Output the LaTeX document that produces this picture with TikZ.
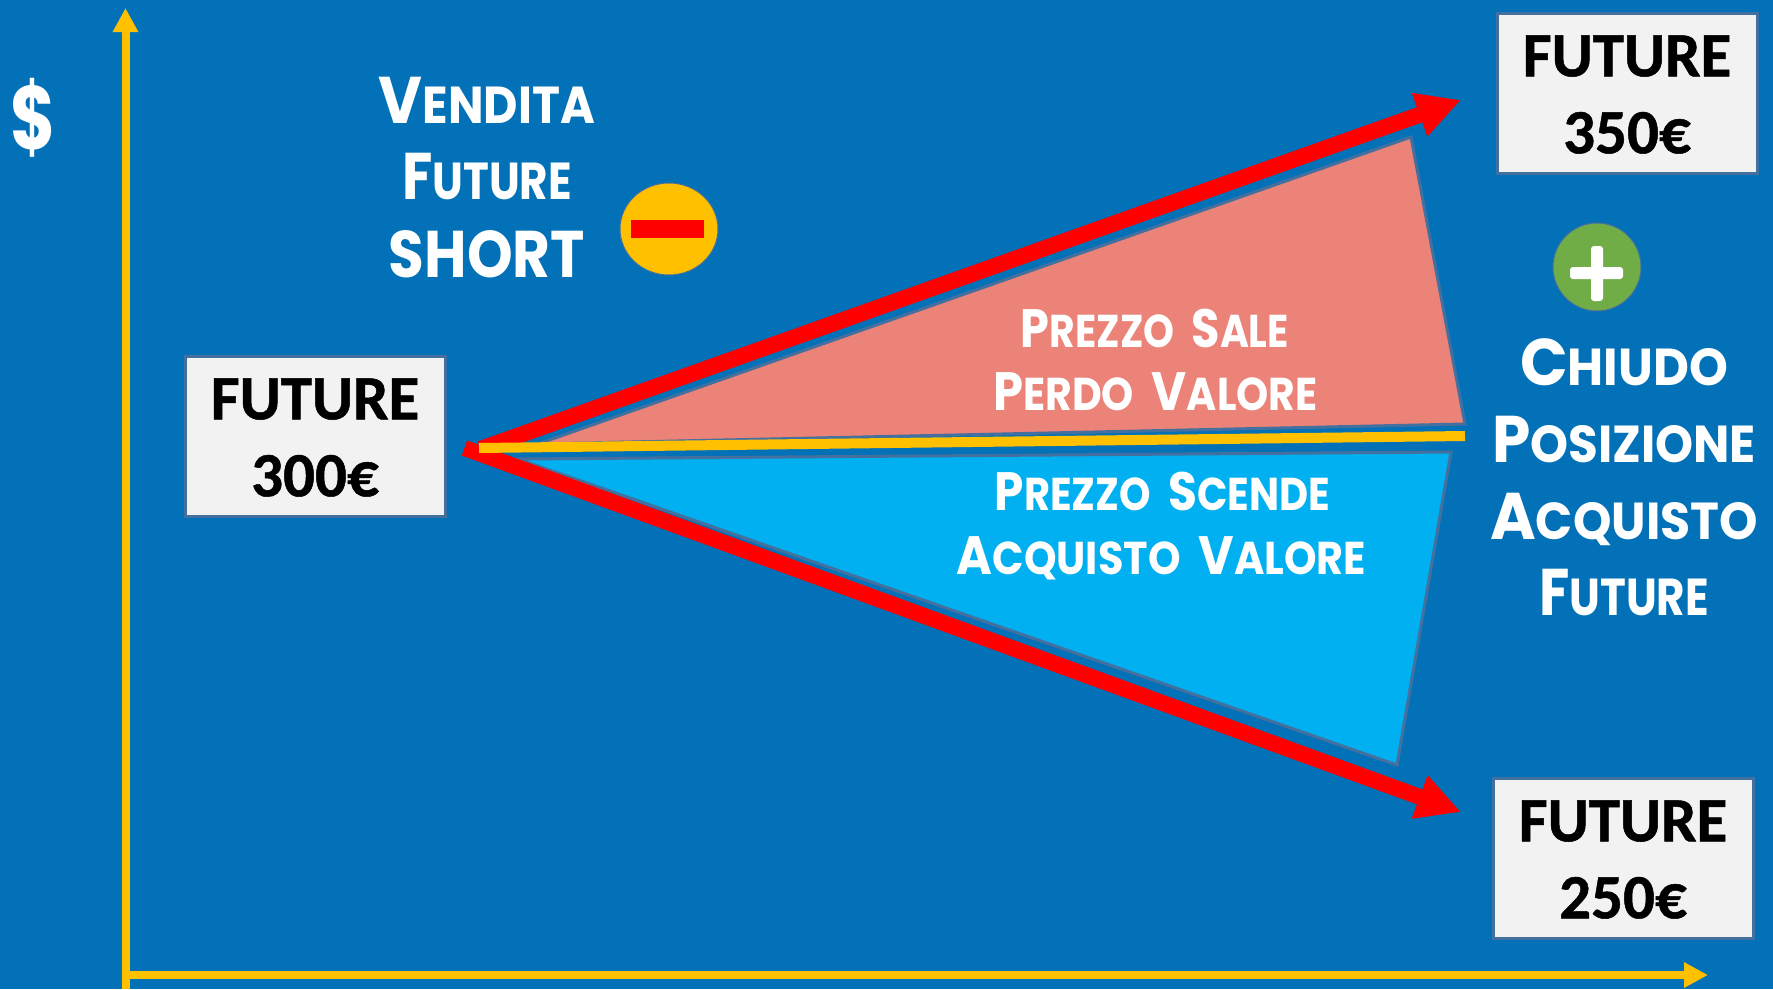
\documentclass[tikz,border=0pt]{standalone}
\usepackage{fontspec}
\setmainfont{Poppins}
\newfontfamily\boxfont[BoldFeatures={FakeBold=0.8}]{Carlito}
\usetikzlibrary{arrows.meta,shapes.geometric}
\definecolor{bgblue}{HTML}{0271B7}
\definecolor{axisyellow}{HTML}{FFC000}
\definecolor{pricered}{HTML}{FF0000}
\definecolor{pinkfill}{HTML}{EB8378}
\definecolor{cyanfill}{HTML}{00B0F0}
\definecolor{edgeblue}{HTML}{44709F}
\definecolor{boxgrey}{HTML}{F2F2F2}
\definecolor{plusgreen}{HTML}{70AD47}
\newcommand{\capsA}[1]{{\fontsize{66}{66}\selectfont #1}}
\newcommand{\smallA}[1]{{\fontsize{52}{52}\selectfont #1}}
\newcommand{\capsB}[1]{{\fontsize{54}{54}\selectfont #1}}
\newcommand{\smallB}[1]{{\fontsize{46}{46}\selectfont #1}}
\newcommand{\wordgap}{\hspace{20pt}}
\tikzset{
  pricebox/.style={draw=edgeblue,line width=3pt,fill=boxgrey,minimum width=260pt,minimum height=160pt,inner sep=0pt,align=center,text=black,font=\boxfont\bfseries\fontsize{63}{77}\selectfont},
  headline/.style={inner sep=0pt,anchor=base,text=white,font=\bfseries},
  wedge/.style={draw=edgeblue,line width=3pt,line join=miter},
  axisline/.style={draw=axisyellow,line width=8pt,-{Triangle[length=24pt,width=24pt]}},
  pricearrow/.style={draw=pricered,line width=16pt,-{Triangle[length=44pt,width=43pt]}},
  midline/.style={draw=axisyellow,line width=10pt}
}
\begin{document}
\begin{tikzpicture}[x=1pt,y=-1pt]
\useasboundingbox[fill=bgblue] (0,0) rectangle (1773,989);
% wedges
\filldraw[wedge,fill=pinkfill] (1411,137) -- (1465,424) -- (538,444) -- cycle;
\filldraw[wedge,fill=cyanfill] (1451,452) -- (1397,765) -- (518,459) -- cycle;
% axes
\coordinate (origin) at (125.5,989);
\coordinate (ytip) at (125.5,8);
\coordinate (xstart) at (121.5,975);
\coordinate (xtip) at (1708,975);
\draw[axisline] (origin) -- (ytip);
\draw[axisline] (xstart) -- (xtip);
% price arrows
\coordinate (upstart) at (480.5,449);
\coordinate (uptip) at (1461,100);
\coordinate (downstart) at (464.5,448);
\coordinate (downtip) at (1461,812);
\draw[pricearrow] (upstart) -- (uptip);
\draw[pricearrow] (downstart) -- (downtip);
\coordinate (midstart) at (479,448);
\coordinate (midend) at (1465,436);
\draw[midline] (midstart) -- (midend);
% boxes
\node[pricebox] (f300) at (315,436) {\rule{0pt}{44pt}FUTURE\\300€};
\node[pricebox] (f350) at (1627,93) {\rule{0pt}{44pt}FUTURE\\350€};
\node[pricebox] (f250) at (1623,858) {\rule{0pt}{44pt}FUTURE\\250€};
% badges
\node[draw=edgeblue,line width=1pt,fill=axisyellow,ellipse,minimum width=98pt,minimum height=92pt,inner sep=0pt] (minusbadge) at (669,229) {};
\node[fill=pricered,minimum width=73pt,minimum height=18pt,inner sep=0pt] (minusbar) at (667.5,229) {};
\node[draw=edgeblue,line width=1pt,fill=plusgreen,circle,minimum size=88pt,inner sep=0pt] (plusbadge) at (1597,267) {};
\node[fill=white,rounded corners=3pt,minimum width=53pt,minimum height=12pt,inner sep=0pt] (plusbar) at (1596.5,273) {};
\node[fill=white,rounded corners=3pt,minimum width=12pt,minimum height=55pt,inner sep=0pt] (plusstem) at (1597,273.5) {};
% texts
\node[headline,font=\bfseries\fontsize{90}{90}\selectfont] (dollar) at (33,149) {\scalebox{.77}[1]{\$}};
\node[headline] (t1) at (487,123) {\scalebox{.91}[1]{\capsA{V}\smallA{ENDITA}}};
\node[headline] (t2) at (487,199) {\scalebox{.84}[1]{\capsA{F}\smallA{UTURE}}};
\node[headline] (t3) at (487,277) {\scalebox{.88}[1]{\capsA{SHORT}}};
\node[headline] (r1) at (1624,385) {\scalebox{.95}[1]{\capsA{C}\smallA{HIUDO}}};
\node[headline] (r2) at (1624,462) {\scalebox{.93}[1]{\capsA{P}\smallA{OSIZIONE}}};
\node[headline] (r3) at (1624,539) {\scalebox{.94}[1]{\capsA{A}\smallA{CQUISTO}}};
\node[headline] (r4) at (1624,615) {\scalebox{.84}[1]{\capsA{F}\smallA{UTURE}}};
\node[headline] (p1) at (1155,347) {\scalebox{.855}[1]{\capsB{P}\smallB{REZZO}\wordgap\capsB{S}\smallB{ALE}}};
\node[headline] (p2) at (1155.5,410) {\scalebox{.89}[1]{\capsB{P}\smallB{ERDO}\wordgap\capsB{V}\smallB{ALORE}}};
\node[headline] (s1) at (1162.5,510) {\scalebox{.87}[1]{\capsB{P}\smallB{REZZO}\wordgap\capsB{S}\smallB{CENDE}}};
\node[headline] (s2) at (1161.5,574) {\scalebox{.90}[1]{\capsB{A}\smallB{CQUISTO}\wordgap\capsB{V}\smallB{ALORE}}};
\end{tikzpicture}
\end{document}
